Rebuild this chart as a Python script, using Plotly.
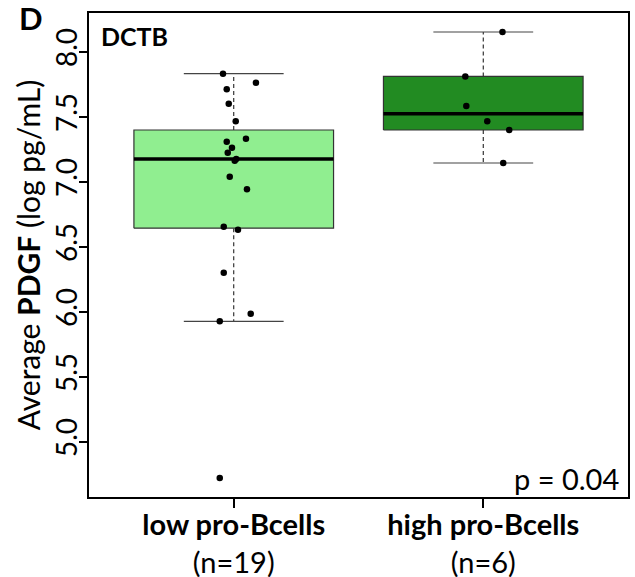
import numpy as np
import plotly.graph_objects as go

# ---------------- data ----------------
groups = ["low pro-Bcells", "high pro-Bcells"]
group_n = ["(n=19)", "(n=6)"]
group_pos = [1, 2]

low_values = [7.831, 7.762, 7.711, 7.600, 7.465, 7.331, 7.308, 7.262, 7.223, 7.175,
              7.162, 7.038, 6.942, 6.654, 6.631, 6.300, 5.985, 5.926, 4.721]
low_jitter = [-0.043, 0.089, -0.028, -0.020, 0.008, 0.049, -0.028, -0.007, -0.024, 0.010,
              0.004, -0.016, 0.053, -0.040, 0.017, -0.040, 0.068, -0.056, -0.056]

high_values = [8.152, 7.810, 7.582, 7.465, 7.398, 7.144]
high_jitter = [0.077, -0.072, -0.068, 0.016, 0.104, 0.080]

box_colors = ["#90EE90", "#228B22"]
y_ticks = [5.0, 5.5, 6.0, 6.5, 7.0, 7.5, 8.0]
panel_letter = "D"
panel_title = "DCTB"
p_text = "p = 0.04"

FONT = "Lato"
FS = 29


def fivenum(v):
    x = np.sort(np.asarray(v, dtype=float))
    n = len(x)
    n4 = np.floor((n + 3) / 2) / 2
    d = np.array([1, n4, (n + 1) / 2, n + 1 - n4, n])
    return 0.5 * (x[np.floor(d).astype(int) - 1] + x[np.ceil(d).astype(int) - 1])


def box_stats(v):
    f = fivenum(v)
    q1, med, q3 = f[1], f[2], f[3]
    iqr = q3 - q1
    arr = np.asarray(v)
    lo = arr[arr >= q1 - 1.5 * iqr].min()
    hi = arr[arr <= q3 + 1.5 * iqr].max()
    return q1, med, q3, lo, hi


fig = go.Figure()
BOXW = 0.8
CAPW = 0.4

all_values = [low_values, high_values]
all_jitter = [low_jitter, high_jitter]

for pos, vals, col in zip(group_pos, all_values, box_colors):
    q1, med, q3, lo, hi = box_stats(vals)
    for a, b in [(q3, hi), (q1, lo)]:
        fig.add_trace(go.Scatter(x=[pos, pos], y=[a, b], mode="lines",
                                 line=dict(color="#222", width=1.1, dash="4px,3px"),
                                 hoverinfo="skip", showlegend=False))
    for w in [hi, lo]:
        fig.add_trace(go.Scatter(x=[pos - CAPW / 2, pos + CAPW / 2], y=[w, w], mode="lines",
                                 line=dict(color="#444", width=1.2),
                                 hoverinfo="skip", showlegend=False))
    xl, xr = pos - BOXW / 2, pos + BOXW / 2
    fig.add_trace(go.Scatter(x=[xl, xr, xr, xl, xl], y=[q1, q1, q3, q3, q1],
                             mode="lines", fill="toself", fillcolor=col,
                             line=dict(color="#333", width=1.2),
                             hoverinfo="skip", showlegend=False))
    fig.add_trace(go.Scatter(x=[xl, xr], y=[med, med], mode="lines",
                             line=dict(color="black", width=3.5),
                             hoverinfo="skip", showlegend=False))

for pos, vals, jit in zip(group_pos, all_values, all_jitter):
    fig.add_trace(go.Scatter(x=[pos + j for j in jit], y=vals, mode="markers",
                             marker=dict(color="black", size=6.5),
                             hoverinfo="skip", showlegend=False))

ticktext = [f"<b>{g}</b><br>{n}" for g, n in zip(groups, group_n)]

fig.update_layout(
    width=635, height=577,
    margin=dict(l=89, r=7, t=13, b=80),
    plot_bgcolor="white", paper_bgcolor="white",
    font=dict(family=FONT, size=FS, color="black"),
    xaxis=dict(range=[0.42, 2.58], tickvals=group_pos, ticktext=ticktext,
               showline=True, mirror=True, linecolor="black", linewidth=2,
               ticks="outside", ticklen=9, tickwidth=2, tickcolor="black",
               showgrid=False, zeroline=False, tickfont=dict(size=FS),
               automargin=False, ticklabelstandoff=-8),
    yaxis=dict(range=[4.575, 8.298], tickvals=y_ticks,
               ticktext=[f"{t:.1f}" for t in y_ticks], tickangle=-90,
               showline=True, mirror=True, linecolor="black", linewidth=2,
               ticks="outside", ticklen=8, tickwidth=2, tickcolor="black",
               showgrid=False, zeroline=False, tickfont=dict(size=28),
               automargin=False, ticklabelstandoff=-9),
)

fig.add_annotation(text="Average <b>PDGF</b> (log pg/mL)", xref="paper", yref="paper",
                   x=-0.1125, y=0.5, xanchor="center", yanchor="middle",
                   textangle=-90, showarrow=False, font=dict(size=30))
fig.add_annotation(text=f"<b>{panel_letter}</b>", xref="paper", yref="paper",
                   x=-0.108, y=0.99, xanchor="center", yanchor="middle",
                   showarrow=False, font=dict(size=31))
fig.add_annotation(text=f"<b>{panel_title}</b>", xref="paper", yref="paper",
                   x=0.0186, y=0.9525, xanchor="left", yanchor="middle",
                   showarrow=False, font=dict(size=25))
fig.add_annotation(text=p_text, xref="paper", yref="paper",
                   x=0.987, y=0.039, xanchor="right", yanchor="middle",
                   showarrow=False, font=dict(size=FS))

fig.write_html("out.html")
